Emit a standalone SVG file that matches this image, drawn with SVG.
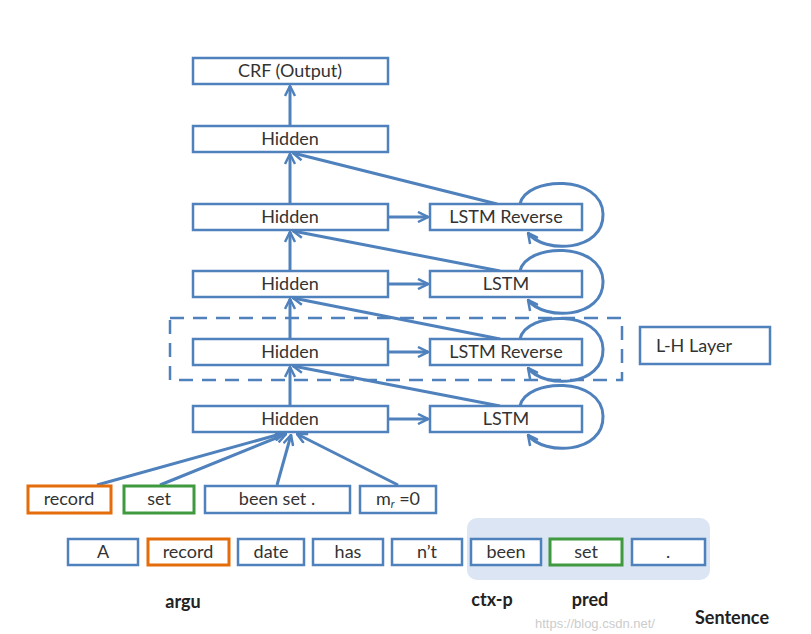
<svg xmlns="http://www.w3.org/2000/svg" width="811" height="634" viewBox="0 0 811 634">
<defs>
<style>
.b{fill:#fff;stroke:#4f81bd;stroke-width:2.5}
.o{fill:#fff;stroke:#e46c0a;stroke-width:3}
.g{fill:#fff;stroke:#3f9a3f;stroke-width:3}
.t{font-family:Lato,"Open Sans","Liberation Sans",sans-serif;font-size:18px;fill:#333;text-anchor:middle}
.lb{font-family:Lato,"Open Sans","Liberation Sans",sans-serif;font-size:18px;font-weight:bold;fill:#222;text-anchor:middle}
.c{fill:none;stroke:#4f81bd;stroke-width:3}
</style>
<marker id="ah" viewBox="0 0 12 12" refX="11" refY="6" markerWidth="12" markerHeight="12" markerUnits="userSpaceOnUse" orient="auto">
<path d="M1,1 L11,6 L1,11" fill="none" stroke="#4f81bd" stroke-width="2.5"/>
</marker>
</defs>
<rect width="811" height="634" fill="#fff"/>

<g id="highlight"><rect x="467" y="518" width="243" height="62" rx="10" fill="#dbe5f3"/></g>
<g id="lh-group"><rect x="170" y="318" width="452" height="62" fill="none" stroke="#4f81bd" stroke-width="2.5" stroke-dasharray="14,9"/></g>

<g id="connectors">
<line class="c" x1="290" y1="126" x2="290" y2="86" marker-end="url(#ah)"/>
<line class="c" x1="290" y1="204" x2="290" y2="154" marker-end="url(#ah)"/>
<line class="c" x1="290" y1="271" x2="290" y2="232" marker-end="url(#ah)"/>
<line class="c" x1="290" y1="339" x2="290" y2="299" marker-end="url(#ah)"/>
<line class="c" x1="290" y1="406" x2="290" y2="367" marker-end="url(#ah)"/>
<line class="c" x1="388" y1="217" x2="428" y2="217" marker-end="url(#ah)"/>
<line class="c" x1="388" y1="284" x2="428" y2="284" marker-end="url(#ah)"/>
<line class="c" x1="388" y1="352" x2="428" y2="352" marker-end="url(#ah)"/>
<line class="c" x1="388" y1="419" x2="428" y2="419" marker-end="url(#ah)"/>
<line class="c" x1="497" y1="204" x2="293" y2="153" marker-end="url(#ah)"/>
<line class="c" x1="500" y1="271" x2="293" y2="231" marker-end="url(#ah)"/>
<line class="c" x1="500" y1="339" x2="293" y2="298" marker-end="url(#ah)"/>
<line class="c" x1="500" y1="406" x2="293" y2="366" marker-end="url(#ah)"/>
<path class="c" d="M520,204 C526,176 602,174 603,214 C604,252 544,254 528,233" marker-end="url(#ah)"/>
<path class="c" d="M520,271 C526,243 602,241 603,281 C604,319 544,321 528,300" marker-end="url(#ah)"/>
<path class="c" d="M520,339 C526,311 602,309 603,349 C604,387 544,389 528,368" marker-end="url(#ah)"/>
<path class="c" d="M520,406 C526,378 602,376 603,416 C604,454 544,456 528,435" marker-end="url(#ah)"/>
<line class="c" x1="97" y1="485" x2="284" y2="433" marker-end="url(#ah)"/>
<line class="c" x1="160" y1="485" x2="286" y2="434" marker-end="url(#ah)"/>
<line class="c" x1="277" y1="485" x2="291" y2="435" marker-end="url(#ah)"/>
<line class="c" x1="398" y1="485" x2="297" y2="434" marker-end="url(#ah)"/>
</g>

<g id="crf"><rect class="b" x="193" y="58" width="195" height="26"/><text class="t" x="290" y="77">CRF  (Output)</text></g>
<g id="hidden1"><rect class="b" x="193" y="126" width="195" height="26"/><text class="t" x="290" y="145">Hidden</text></g>
<g id="hidden2"><rect class="b" x="193" y="204" width="195" height="26"/><text class="t" x="290" y="223">Hidden</text></g>
<g id="hidden3"><rect class="b" x="193" y="271" width="195" height="26"/><text class="t" x="290" y="290">Hidden</text></g>
<g id="hidden4"><rect class="b" x="193" y="339" width="195" height="26"/><text class="t" x="290" y="358">Hidden</text></g>
<g id="hidden5"><rect class="b" x="193" y="406" width="195" height="26"/><text class="t" x="290" y="425">Hidden</text></g>
<g id="lstmr1"><rect class="b" x="430" y="204" width="152" height="26"/><text class="t" x="506" y="223">LSTM Reverse</text></g>
<g id="lstm1"><rect class="b" x="430" y="271" width="152" height="26"/><text class="t" x="506" y="290">LSTM</text></g>
<g id="lstmr2"><rect class="b" x="430" y="339" width="152" height="26"/><text class="t" x="506" y="358">LSTM Reverse</text></g>
<g id="lstm2"><rect class="b" x="430" y="406" width="152" height="26"/><text class="t" x="506" y="425">LSTM</text></g>
<g id="lh-layer"><rect class="b" x="640" y="327" width="130" height="37"/><text class="t" x="694" y="352">L-H Layer</text></g>

<g id="in-record"><rect class="o" x="28" y="486" width="83" height="27"/><text class="t" x="69" y="505">record</text></g>
<g id="in-set"><rect class="g" x="124" y="486" width="70" height="27"/><text class="t" x="159" y="505">set</text></g>
<g id="in-beenset"><rect class="b" x="205" y="486" width="145" height="27"/><text class="t" x="277" y="505">been set .</text></g>
<g id="in-mr"><rect class="b" x="360" y="486" width="76" height="27"/><text class="t" x="398" y="505">m<tspan font-size="11" font-style="italic" dy="3">r</tspan><tspan dy="-3"> =0</tspan></text></g>

<g id="w-a"><rect class="b" x="68" y="539" width="70" height="26"/><text class="t" x="103" y="558">A</text></g>
<g id="w-record"><rect class="o" x="148" y="539" width="81" height="26"/><text class="t" x="188" y="558">record</text></g>
<g id="w-date"><rect class="b" x="238" y="539" width="66" height="26"/><text class="t" x="271" y="558">date</text></g>
<g id="w-has"><rect class="b" x="313" y="539" width="70" height="26"/><text class="t" x="348" y="558">has</text></g>
<g id="w-nt"><rect class="b" x="392" y="539" width="70" height="26"/><text class="t" x="427" y="558">n’t</text></g>
<g id="w-been"><rect class="b" x="471" y="539" width="70" height="26"/><text class="t" x="506" y="558">been</text></g>
<g id="w-set"><rect class="g" x="550" y="539" width="72" height="26"/><text class="t" x="586" y="558">set</text></g>
<g id="w-dot"><rect class="b" x="632" y="539" width="73" height="26"/><text class="t" x="668" y="558">.</text></g>

<g id="labels">
<text class="lb" x="183" y="608">argu</text>
<text class="lb" x="492" y="606">ctx-p</text>
<text class="lb" x="590" y="606">pred</text>
<text x="535" y="628" font-family="'Liberation Sans',sans-serif" font-size="13" fill="#ccc">https://blog.csdn.net/</text>
<text class="lb" x="732" y="624" font-size="19" fill="#333">Sentence</text>
</g>
</svg>
